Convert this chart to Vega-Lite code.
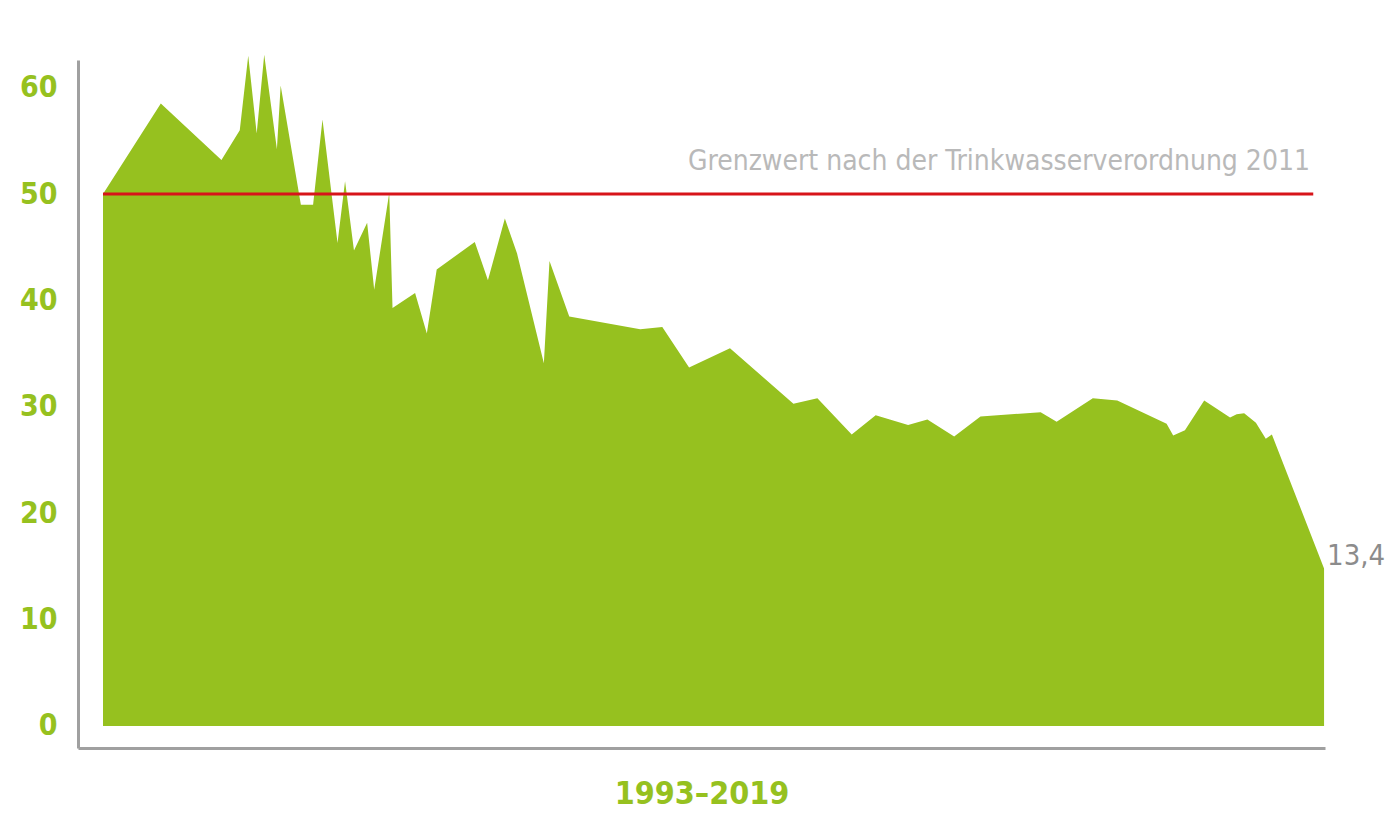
{
  "$schema": "https://vega.github.io/schema/vega-lite/v6.json",
  "autosize": {"type": "none"},
  "padding": {"left": 78, "top": 60, "right": 75, "bottom": 92},
  "width": 1247,
  "height": 688,
  "background": "#ffffff",
  "config": {"view": {"stroke": null}},
  "datasets": {
    "wasser": [
      {"jahr": 1993.00, "wert": 50.0},
      {"jahr": 1994.23, "wert": 58.5},
      {"jahr": 1995.52, "wert": 53.2},
      {"jahr": 1995.91, "wert": 56.0},
      {"jahr": 1996.09, "wert": 63.0},
      {"jahr": 1996.27, "wert": 55.7},
      {"jahr": 1996.43, "wert": 63.1},
      {"jahr": 1996.70, "wert": 54.2},
      {"jahr": 1996.78, "wert": 60.2},
      {"jahr": 1997.21, "wert": 49.0},
      {"jahr": 1997.47, "wert": 49.0},
      {"jahr": 1997.67, "wert": 57.0},
      {"jahr": 1997.99, "wert": 45.4},
      {"jahr": 1998.15, "wert": 51.2},
      {"jahr": 1998.34, "wert": 44.7},
      {"jahr": 1998.62, "wert": 47.3},
      {"jahr": 1998.77, "wert": 41.0},
      {"jahr": 1999.09, "wert": 50.1},
      {"jahr": 1999.16, "wert": 39.3},
      {"jahr": 1999.64, "wert": 40.7},
      {"jahr": 1999.89, "wert": 36.9},
      {"jahr": 2000.10, "wert": 42.9},
      {"jahr": 2000.91, "wert": 45.5},
      {"jahr": 2001.19, "wert": 41.9},
      {"jahr": 2001.55, "wert": 47.7},
      {"jahr": 2001.81, "wert": 44.4},
      {"jahr": 2002.38, "wert": 34.1},
      {"jahr": 2002.50, "wert": 43.7},
      {"jahr": 2002.92, "wert": 38.5},
      {"jahr": 2004.43, "wert": 37.3},
      {"jahr": 2004.90, "wert": 37.5},
      {"jahr": 2005.47, "wert": 33.7},
      {"jahr": 2006.34, "wert": 35.5},
      {"jahr": 2007.69, "wert": 30.3},
      {"jahr": 2008.20, "wert": 30.8},
      {"jahr": 2008.93, "wert": 27.4},
      {"jahr": 2009.44, "wert": 29.2},
      {"jahr": 2010.13, "wert": 28.3},
      {"jahr": 2010.54, "wert": 28.8},
      {"jahr": 2011.11, "wert": 27.2},
      {"jahr": 2011.67, "wert": 29.1},
      {"jahr": 2012.95, "wert": 29.5},
      {"jahr": 2013.29, "wert": 28.6},
      {"jahr": 2014.06, "wert": 30.8},
      {"jahr": 2014.58, "wert": 30.6},
      {"jahr": 2015.63, "wert": 28.4},
      {"jahr": 2015.77, "wert": 27.3},
      {"jahr": 2016.02, "wert": 27.8},
      {"jahr": 2016.43, "wert": 30.6},
      {"jahr": 2016.98, "wert": 29.0},
      {"jahr": 2017.12, "wert": 29.3},
      {"jahr": 2017.28, "wert": 29.4},
      {"jahr": 2017.53, "wert": 28.5},
      {"jahr": 2017.74, "wert": 27.0},
      {"jahr": 2017.87, "wert": 27.4},
      {"jahr": 2018.98, "wert": 14.8}
    ],
    "grenzwert": [
      {"von": 1993.0, "bis": 2018.75, "wert": 50, "textx": 2018.68, "texty": 53.0, "label": "Grenzwert nach der Trinkwasserverordnung 2011"}
    ],
    "ende": [
      {"jahr": 2018.98, "wert": 14.8, "label": "13,4"}
    ]
  },
  "layer": [
    {
      "data": {"name": "wasser"},
      "mark": {"type": "area", "color": "#96c11f", "interpolate": "linear"},
      "encoding": {
        "x": {
          "field": "jahr", "type": "quantitative",
          "scale": {"domain": [1992.468, 2019.0], "nice": false, "zero": false},
          "axis": {
            "title": "1993–2019", "labels": false, "ticks": false, "grid": false,
            "domainColor": "#a0a0a0", "domainWidth": 3,
            "titleFont": "DejaVu Sans Condensed, sans-serif",
            "titleFontSize": 32, "titleFontWeight": "bold", "titleColor": "#96c11f",
            "titlePadding": 30
          }
        },
        "y": {
          "field": "wert", "type": "quantitative",
          "scale": {"domain": [-2.07, 62.6], "nice": false, "zero": false},
          "axis": {
            "title": null, "values": [0, 10, 20, 30, 40, 50, 60],
            "ticks": false, "grid": false,
            "domainColor": "#a0a0a0", "domainWidth": 3,
            "labelFont": "DejaVu Sans Condensed, sans-serif",
            "labelFontSize": 30, "labelFontWeight": "bold", "labelColor": "#96c11f",
            "labelPadding": 21
          }
        }
      }
    },
    {
      "data": {"name": "grenzwert"},
      "mark": {"type": "rule", "color": "#d7141a", "strokeWidth": 3},
      "encoding": {
        "x": {"field": "von", "type": "quantitative"},
        "x2": {"field": "bis"},
        "y": {"field": "wert", "type": "quantitative"}
      }
    },
    {
      "data": {"name": "grenzwert"},
      "mark": {"type": "text", "align": "right", "baseline": "middle", "color": "#b9b9b9",
               "font": "DejaVu Sans Condensed, sans-serif", "fontSize": 28},
      "encoding": {
        "x": {"field": "textx", "type": "quantitative"},
        "y": {"field": "texty", "type": "quantitative"},
        "text": {"field": "label"}
      }
    },
    {
      "data": {"name": "ende"},
      "mark": {"type": "text", "align": "left", "baseline": "alphabetic", "dx": 3, "dy": -4, "color": "#8c8c8c",
               "font": "DejaVu Sans Condensed, sans-serif", "fontSize": 29},
      "encoding": {
        "x": {"field": "jahr", "type": "quantitative"},
        "y": {"field": "wert", "type": "quantitative"},
        "text": {"field": "label"}
      }
    }
  ]
}
